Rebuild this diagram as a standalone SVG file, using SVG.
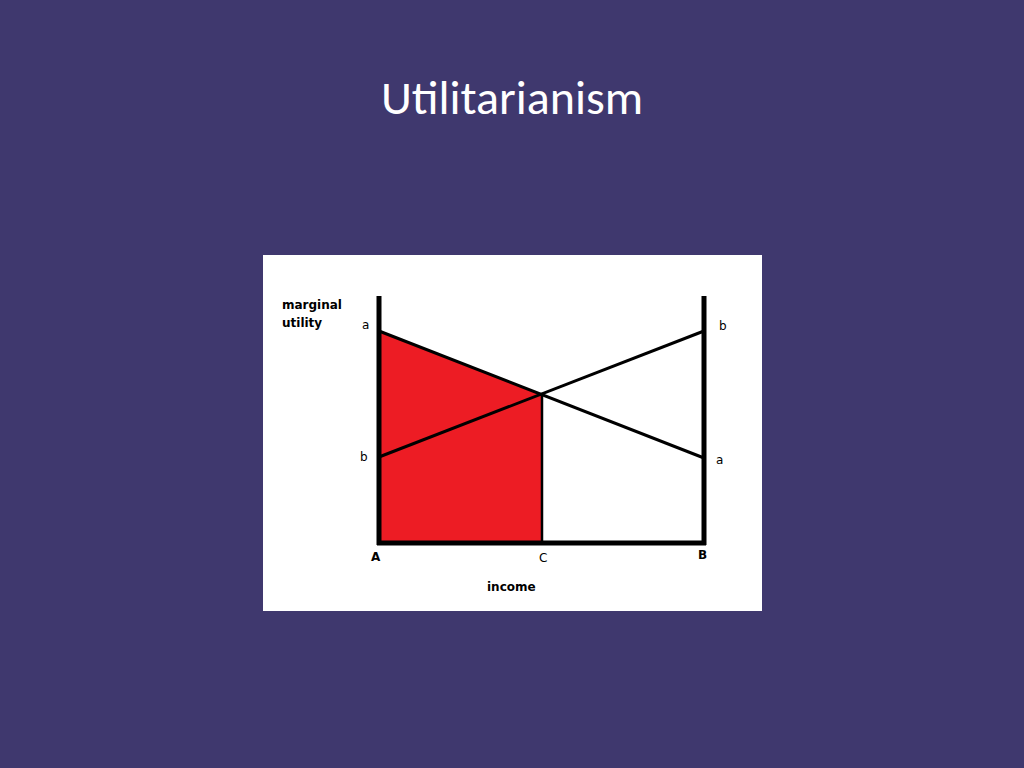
<svg xmlns="http://www.w3.org/2000/svg" width="1024" height="768" viewBox="0 0 1024 768">
<style>
.t{font-family:"DejaVu Sans",sans-serif;font-size:12px;fill:#000}
.b{font-weight:bold}
.l{stroke:#000;fill:none}
</style>
<rect width="1024" height="768" fill="#3f386e"/>
<text x="512" y="114" text-anchor="middle" font-family="Calibri,Carlito,'Open Sans',sans-serif" font-size="48" fill="#fff">Utilitarianism</text>
<rect x="263" y="255" width="499" height="356" fill="#fff"/>
<g id="area"><polygon points="379,331 542,394 542,542 379,542" fill="#ed1c24"/></g>
<g id="connectors">
<line class="l" x1="379" y1="331" x2="704" y2="458" stroke-width="3"/>
<line class="l" x1="379" y1="457" x2="704" y2="331" stroke-width="3"/>
<line class="l" x1="542" y1="394" x2="542" y2="542" stroke-width="2.5"/>
<line class="l" x1="379" y1="296" x2="379" y2="545" stroke-width="5"/>
<line class="l" x1="704" y1="296" x2="704" y2="545" stroke-width="5"/>
<line class="l" x1="377" y1="543" x2="706" y2="543" stroke-width="5"/>
</g>
<g id="labels">
<text class="t b" x="282" y="309" font-size="13">marginal</text>
<text class="t b" x="282" y="327" font-size="13">utility</text>
<text class="t" x="362" y="329">a</text>
<text class="t" x="360" y="461">b</text>
<text class="t" x="719" y="330">b</text>
<text class="t" x="716" y="464">a</text>
<text class="t b" x="371" y="561">A</text>
<text class="t" x="539" y="562">C</text>
<text class="t b" x="698" y="559">B</text>
<text class="t b" x="487" y="591" font-size="13">income</text>
</g>
</svg>
